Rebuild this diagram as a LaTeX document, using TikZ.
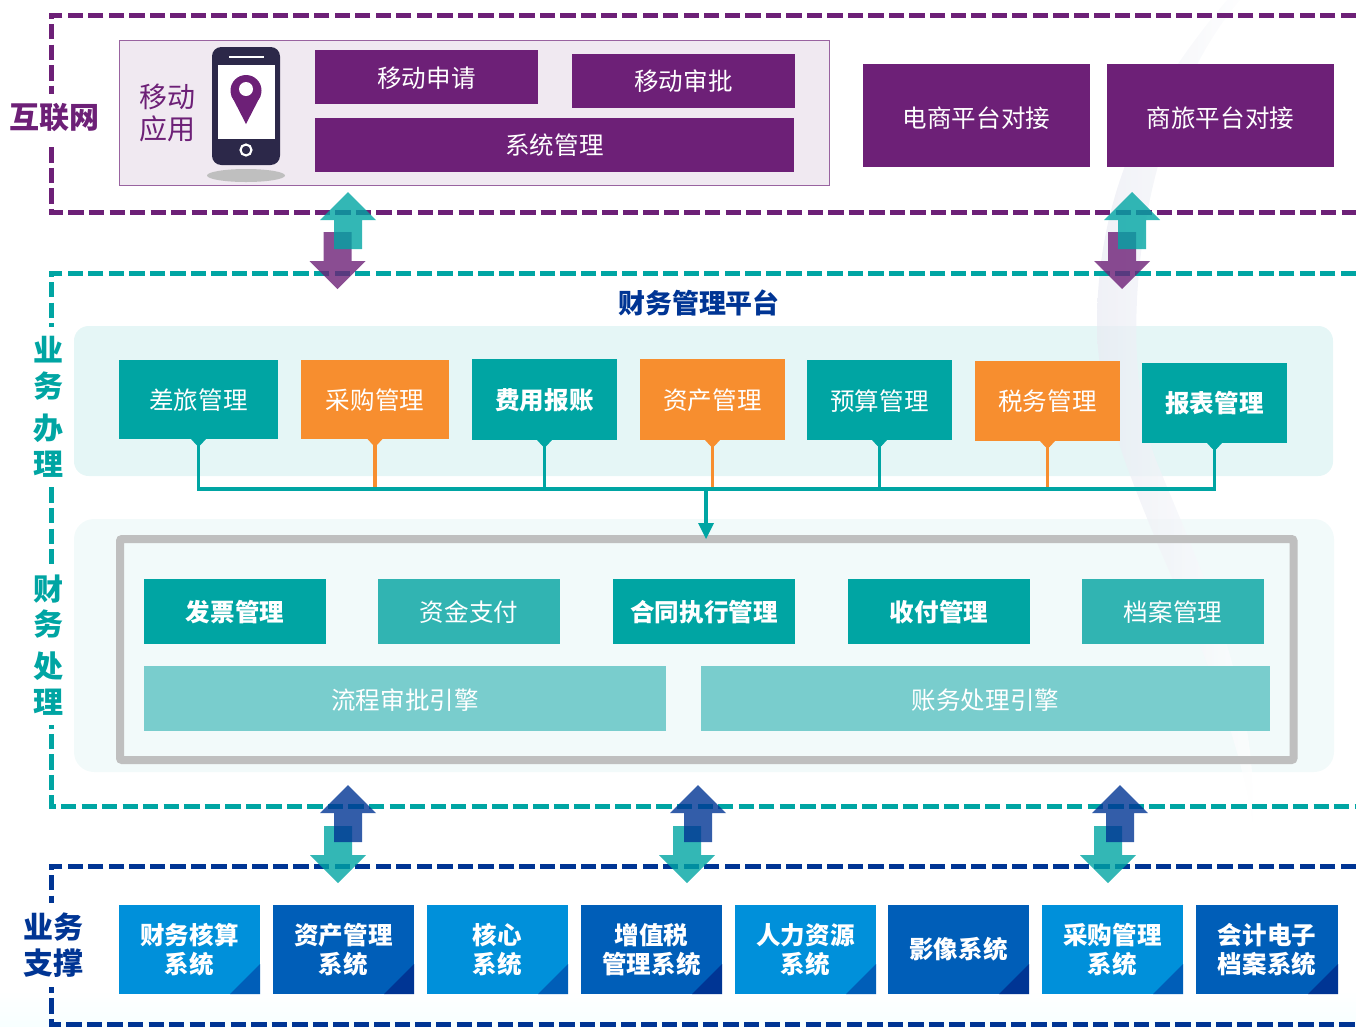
\documentclass[tikz,border=0pt]{standalone}
\usepackage{fontspec}
\setmainfont{Noto Sans CJK SC}
\definecolor{cPurple}{HTML}{6D2077}
\definecolor{cTeal}{HTML}{00A5A3}
\definecolor{cTealB}{HTML}{31B4B2}
\definecolor{cTealC}{HTML}{79CDCD}
\definecolor{cOrange}{HTML}{F78E2F}
\definecolor{cNavy}{HTML}{003594}
\definecolor{cBlueL}{HTML}{0090DA}
\definecolor{cBlueD}{HTML}{005EB8}
\definecolor{cInk}{HTML}{2C2849}
\definecolor{cSwoosh}{HTML}{E9EBF3}
\newcommand\bx[7]{%
  \pgfmathsetmacro\bw{(#4-#2)*0.75}\pgfmathsetmacro\bh{(#5-#3)*0.75}%
  \node[#6,minimum width=\bw pt,minimum height=\bh pt] (#1) at ({(#2+#4)/2},{(#3+#5)/2}) {#7};}
\newcommand\dn[2]{\raisebox{-#1}[.88em][.12em]{#2}}
% up arrow: centre x, tip y  /  down arrow: centre x, top y
\newcommand\uparr[3]{\fill[#3,fill opacity=.8] (#1,#2) -- ++(28,28) -- ++(-14,0) -- ++(0,29) -- ++(-28,0) -- ++(0,-29) -- ++(-14,0) -- cycle;}
\newcommand\downarr[3]{\fill[#3,fill opacity=.8] (#1-14,#2) -- ++(28,0) -- ++(0,29) -- ++(14,0) -- ++(-28,28) -- ++(-28,-28) -- ++(14,0) -- cycle;}
\tikzset{
  base/.style={inner sep=0pt,outer sep=0pt,align=center,text=white,font=\fontsize{18.4}{22}\selectfont},
  bold/.style={base,font=\fontsize{18.4}{22}\bfseries\selectfont},
  purplebox/.style={base,fill=cPurple},
  tealbox/.style={base,fill=cTeal},
  tealboldbox/.style={bold,fill=cTeal},
  orangebox/.style={base,fill=cOrange},
  midbox/.style={base,fill=cTealB},
  paleobox/.style={base,fill=cTealC},
  sysl/.style={bold,fill=cBlueL},
  sysd/.style={bold,fill=cBlueD},
  zone/.style={line width=3.75pt,dash pattern=on 11.5pt off 3.9pt},
  sidelabel/.style={fill=white,inner xsep=1pt,inner ysep=7pt,align=center,font=\fontsize{22.5}{27}\bfseries\selectfont},
}
\begin{document}
\begin{tikzpicture}[x=0.75pt,y=-0.75pt]
\useasboundingbox (0,0) rectangle (1356,1026);
\shade[top color=white,bottom color=cyan!3] (0,990) rectangle (1356,1026);
% panels
\fill[fill=cTeal!10] (74,326) [rounded corners=11pt] rectangle (1333,476);
\fill[fill=cTeal!5] (74,519) [rounded corners=15pt] rectangle (1334,772);
% background swoosh
\shade[left color=cSwoosh,right color=white,opacity=.7]
  (1227,0) .. controls (1150,90) and (1097,190) .. (1097,325)
  .. controls (1097,470) and (1225,640) .. (1253,826)
  .. controls (1258,700) and (1210,590) .. (1160,470)
  .. controls (1115,370) and (1130,130) .. (1240,0) -- cycle;
% zones
\draw[zone,cPurple] (1356,15) -- (51,15) -- (51,212) -- (1356,212);
\draw[zone,cTeal] (1356,273) -- (51,273) -- (51,806) -- (1356,806);
\draw[zone,cNavy] (1356,866) -- (51,866) -- (51,1024) -- (1356,1024);
\node[sidelabel,text=cPurple] (lnet) at (54,118) {互联网};
\node[sidelabel,text=cTeal] (lban) at (48,407) {业\\[-.2pt]务\\[4.5pt]办\\[-.2pt]理};
\node[sidelabel,text=cTeal] (lchu) at (48,645) {财\\[-.2pt]务\\[4.5pt]处\\[-.2pt]理};
\node[sidelabel,text=cNavy] (lzhi) at (53,945) {业务\\支撑};
% mobile panel
\fill[fill=cPurple!10,draw=cPurple!70,line width=.5pt] (119,40) rectangle (829,185);
\node[inner sep=0pt,align=center,text=cPurple,font=\fontsize{21}{24}\selectfont] (lmob) at (167,113) {移动\\应用};
% phone
\fill[black!25] (246,175.5) ellipse [x radius=39,y radius=6.5];
\fill[cInk,rounded corners=7pt] (212,47) rectangle (280,165);
\fill[white] (218,65) rectangle (275,139);
\fill[white] (229,56) rectangle (264,58);
\draw[white,line width=1.6pt] (246,150) circle [radius=5.5];
\fill[cPurple] (246,90.5) circle [radius=15.5];
\fill[cPurple] (246,124) -- (231.6,96) -- (260.4,96) -- cycle;
\fill[white] (246,89) circle [radius=7];
% internet boxes
\bx{m1}{315}{50}{538}{104}{purplebox}{\dn{.75pt}{移动申请}}
\bx{m2}{572}{54}{795}{108}{purplebox}{移动审批}
\bx{m3}{315}{118}{794}{172}{purplebox}{系统管理}
\bx{e1}{863}{64}{1090}{167}{purplebox}{\dn{2.25pt}{电商平台对接}}
\bx{e2}{1107}{64}{1334}{167}{purplebox}{\dn{2.25pt}{商旅平台对接}}
\node[inner sep=0pt,text=cNavy,font=\fontsize{20.2}{24}\bfseries\selectfont] (ttl) at (699,303) {财务管理平台};
% business row
\bx{b1}{119}{360}{278}{439}{tealbox}{\dn{.75pt}{差旅管理}}
\bx{b2}{301}{360}{449}{439}{orangebox}{\dn{.75pt}{采购管理}}
\bx{b3}{472}{359}{617}{440}{tealboldbox}{\dn{.75pt}{费用报账}}
\bx{b4}{640}{359}{785}{440}{orangebox}{\dn{.75pt}{资产管理}}
\bx{b5}{807}{360}{952}{440}{tealbox}{\dn{.75pt}{预算管理}}
\bx{b6}{975}{361}{1120}{441}{orangebox}{税务管理}
\bx{b7}{1142}{363}{1287}{443}{tealboldbox}{报表管理}
\coordinate (bus) at (706,489);
\coordinate (tgt) at (706,525);
% frame
\draw[black!25,line width=6pt,rounded corners=1.5pt] (120,539) rectangle (1293.5,760);
% connectors
\foreach \n/\c in {b2/cOrange,b4/cOrange,b6/cOrange,b1/cTeal,b3/cTeal,b5/cTeal,b7/cTeal}{
  \fill[\c] ([xshift=-5.6pt]\n.south) -- ([xshift=5.6pt]\n.south) -- ([xshift=1.5pt,yshift=-4.5pt]\n.south) -- ([xshift=-1.5pt,yshift=-4.5pt]\n.south) -- cycle;
}
\foreach \n/\c in {b1/cTeal,b2/cOrange,b3/cTeal,b4/cOrange,b5/cTeal,b6/cOrange,b7/cTeal}{
  \draw[\c,line width=2.9pt] (\n.south) |- (bus);
}
\draw[cTeal,line width=2.9pt,line join=round] (b1.south) |- (b7.south |- bus) -- (b7.south);
\draw[cTeal,line width=2.9pt] (bus) -- (tgt);
\fill[cTeal] (698,523) -- (714,523) -- (706,539) -- cycle;
% processing boxes
\bx{p1}{144}{579}{326}{644}{tealboldbox}{\dn{.75pt}{发票管理}}
\bx{p2}{378}{579}{560}{644}{midbox}{\dn{.75pt}{资金支付}}
\bx{p3}{613}{579}{795}{644}{tealboldbox}{\dn{.75pt}{合同执行管理}}
\bx{p4}{848}{579}{1030}{644}{tealboldbox}{\dn{.75pt}{收付管理}}
\bx{p5}{1082}{579}{1264}{644}{midbox}{\dn{.75pt}{档案管理}}
\bx{q1}{144}{666}{666}{731}{paleobox}{\dn{1.5pt}{流程审批引擎}}
\bx{q2}{701}{666}{1270}{731}{paleobox}{\dn{1.5pt}{账务处理引擎}}
% support systems
\bx{s1}{119}{905}{260}{994}{sysl}{财务核算\\系统}
\bx{s2}{273}{905}{414}{994}{sysd}{资产管理\\系统}
\bx{s3}{427}{905}{568}{994}{sysl}{核心\\系统}
\bx{s4}{581}{905}{722}{994}{sysd}{增值税\\管理系统}
\bx{s5}{735}{905}{876}{994}{sysl}{人力资源\\系统}
\bx{s6}{888}{905}{1029}{994}{sysd}{影像系统}
\bx{s7}{1042}{905}{1183}{994}{sysl}{采购管理\\系统}
\bx{s8}{1196}{905}{1338}{994}{sysd}{会计电子\\档案系统}
\foreach \n/\c in {s1/cBlueD,s3/cBlueD,s5/cBlueD,s7/cBlueD,s2/cNavy,s4/cNavy,s6/cNavy,s8/cNavy}{
  \fill[\c] (\n.south east) -- ++(-30,0) -- ++(30,-30) -- cycle;
}
% double arrows
\downarr{337.5}{232}{cPurple}\uparr{348}{192}{cTeal}
\downarr{1122}{232}{cPurple}\uparr{1132}{192}{cTeal}
\downarr{338}{826}{cTeal}\uparr{348}{785}{cNavy}
\downarr{687}{826}{cTeal}\uparr{698}{785}{cNavy}
\downarr{1108}{826}{cTeal}\uparr{1120}{785}{cNavy}
\end{tikzpicture}
\end{document}
